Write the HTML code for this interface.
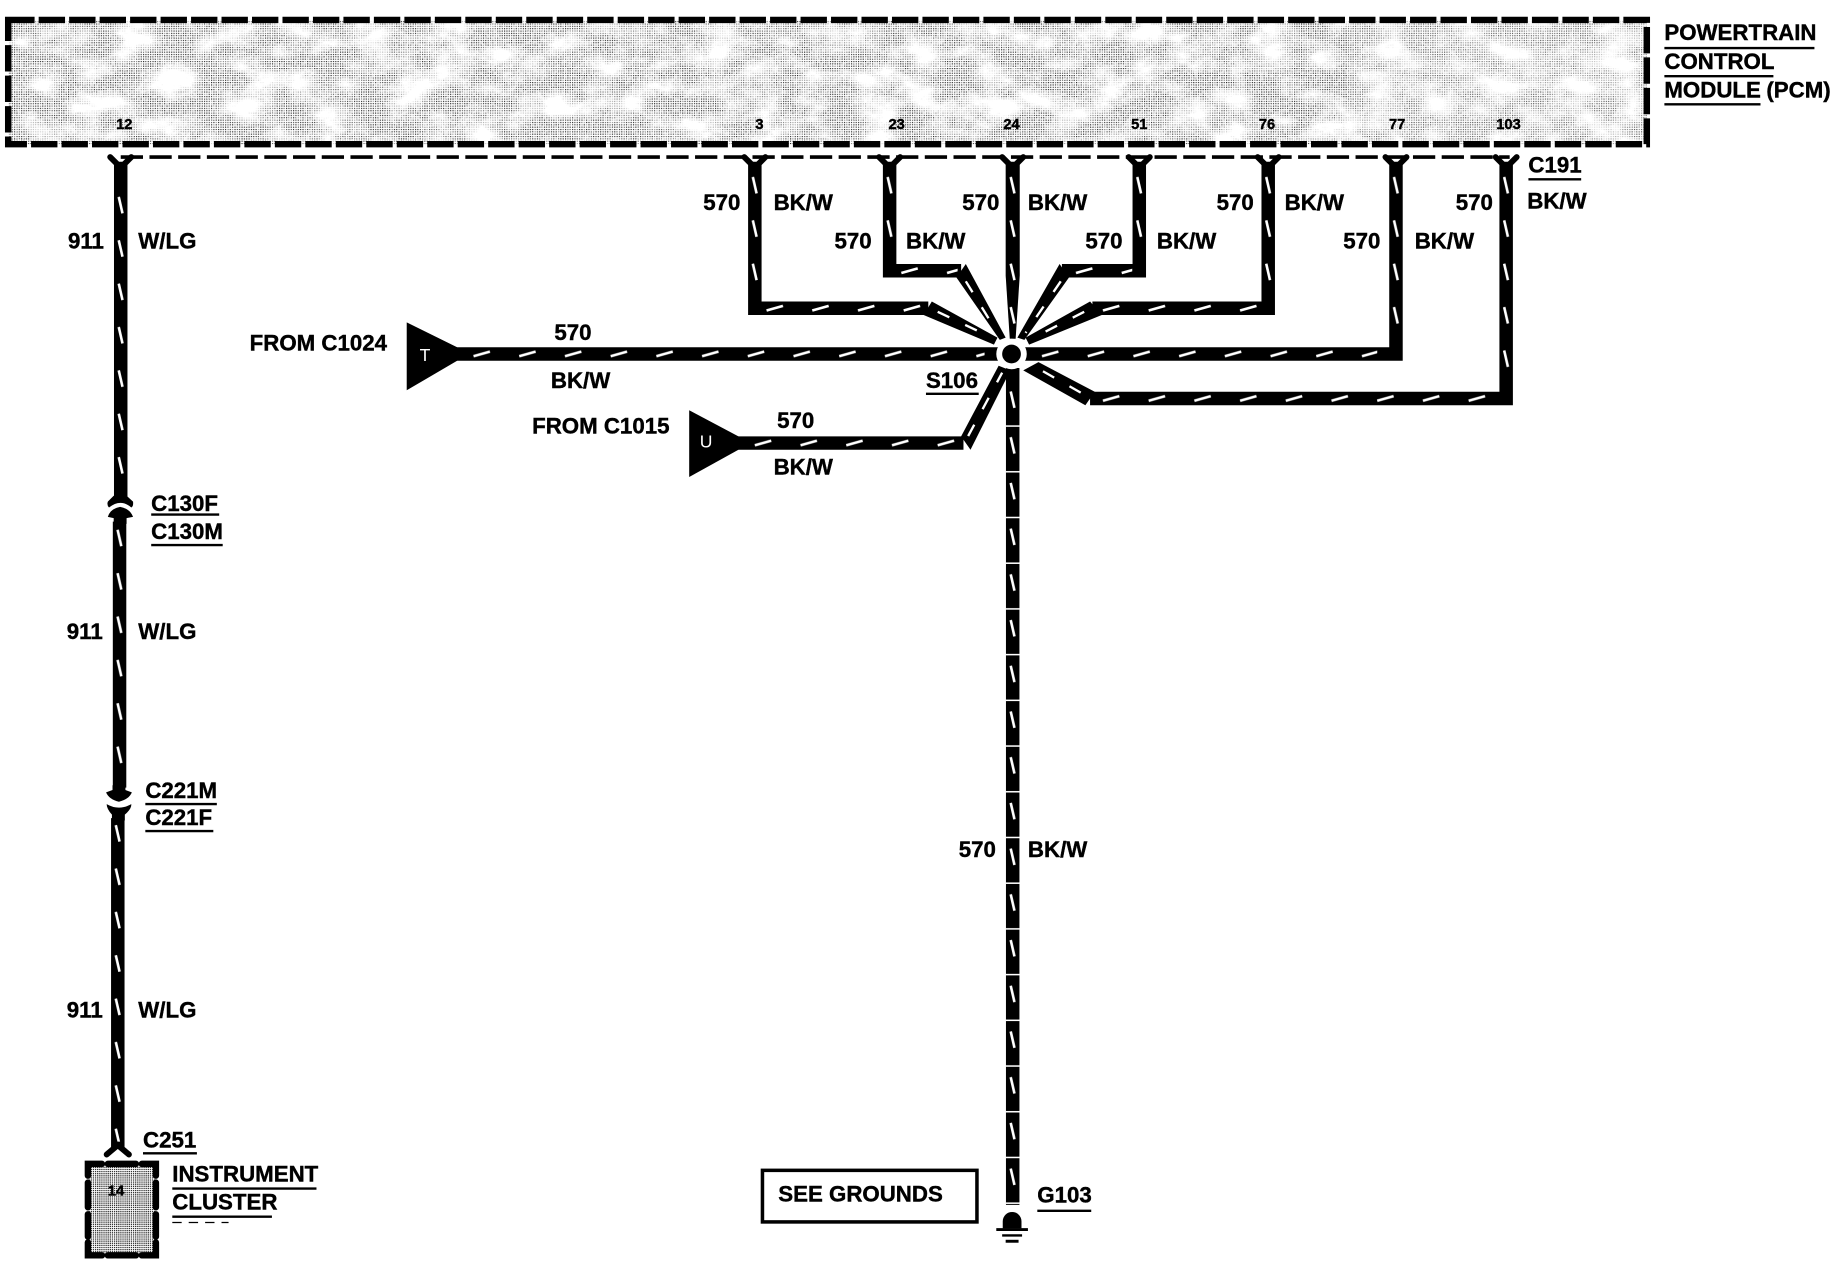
<!DOCTYPE html>
<html><head><meta charset="utf-8"><title>Wiring diagram</title>
<style>
html,body{margin:0;padding:0;background:#fff}
svg{display:block}
text{font-family:"Liberation Sans",Arial,sans-serif;font-weight:bold;font-size:19px;fill:#000;stroke:#000;stroke-width:.35}
.p{font-size:12.5px;text-anchor:middle}
.w{fill:none;stroke:#000;stroke-width:11.5;stroke-linejoin:miter}
.d{fill:none;stroke:#fff;stroke-width:2;stroke-dasharray:11 15}
.u{stroke:#000;stroke-width:2;fill:none}
.f{fill:none;stroke:#000;stroke-width:5;stroke-linecap:round}
.c{fill:none;stroke:#000;stroke-width:5.5;stroke-linecap:round;stroke-linejoin:miter}
</style></head><body>
<svg xmlns="http://www.w3.org/2000/svg" width="1832" height="1264" viewBox="0 0 1563 1078.4" preserveAspectRatio="none">
<defs>
<pattern id="dots" width="2" height="2" patternUnits="userSpaceOnUse"><rect width="2" height="2" fill="#fff"/><rect width="1" height="1" fill="#222"/></pattern>
<pattern id="dots2" width="1.8" height="1.8" patternUnits="userSpaceOnUse"><rect width="1.8" height="1.8" fill="#fff"/><rect width="1.1" height="1.1" fill="#333"/></pattern>
<filter id="blotch" x="0" y="0" width="1" height="1" color-interpolation-filters="sRGB">
<feTurbulence type="fractalNoise" baseFrequency=".03 .05" numOctaves="5" seed="4"/>
<feColorMatrix values="0 0 0 0 1 0 0 0 0 1 0 0 0 0 1 3 0 0 0 -1.150"/>
</filter>
<filter id="grain" x="0" y="0" width="1" height="1" color-interpolation-filters="sRGB">
<feTurbulence type="fractalNoise" baseFrequency=".45" numOctaves="2" seed="9"/>
<feColorMatrix values="0 0 0 0 1 0 0 0 0 1 0 0 0 0 1 7 0 0 0 -3.500"/>
</filter>
<pattern id="v" width="12" height="37" patternUnits="userSpaceOnUse"><path d="M4.300 4L7.500 18" stroke="#fff" stroke-width="2.200" fill="none"/></pattern>
<pattern id="vb" width="12" height="39" patternUnits="userSpaceOnUse"><path d="M4.300 8L7.500 22" stroke="#fff" stroke-width="2.200" fill="none"/><path d="M0 37.500H12" stroke="#fff" stroke-width="1.300"/></pattern>
<pattern id="h" width="39" height="11.500" patternUnits="userSpaceOnUse"><path d="M4 7.700L18 3.700" stroke="#fff" stroke-width="2.200" fill="none"/></pattern>
</defs>

<!-- PCM -->
<rect x="7" y="17" width="1398" height="106" fill="url(#dots)"/>
<rect x="7" y="17" width="1398" height="106" filter="url(#grain)" opacity=".55"/>
<rect x="7" y="17" width="1398" height="106" filter="url(#blotch)"/>
<rect x="1150" y="17" width="255" height="106" fill="#fff" opacity=".2"/>
<rect x="7" y="17" width="1398" height="106" fill="none" stroke="#000" stroke-width="5.500" stroke-dasharray="22.500 3.500"/>
<path d="M103 134H1288" stroke="#000" stroke-width="3" stroke-dasharray="19 5.500" fill="none"/>

<!-- wires -->
<path class="w" d="M103 138V425"/>
<path class="w" d="M102 445V672"/>
<path class="w" d="M100.500 698V979"/>
<path class="w" d="M644 138V263H792"/>
<polygon points="795,257.250 788,268.750 848,294 851,288"/>
<path class="w" d="M759 138V231H820"/>
<polygon points="824,225.250 816,236.750 853,290 858,288"/>
<polygon points="858,138 870,138 870,235 866.500,289 861.500,289 858,235"/>
<path class="w" d="M864 314V1028"/>
<path class="w" d="M972 138V231H906"/>
<polygon points="904,225.250 912,236.750 874,290 868,288"/>
<path class="w" d="M1082 138V263H932"/>
<polygon points="930,257.250 940,268.750 878,294 875,288"/>
<path class="w" d="M1191 138V302H388"/>
<path class="w" d="M1285 138V340H930"/>
<polygon points="934,334.250 926,345.750 873,316 886,309"/>
<path class="w" d="M628 378H822"/>
<polygon points="820,372.250 828,383.750 862,316 852,312"/>

<!-- forks -->
<g class="f">
<path d="M94 134L103 143L112 134"/><path d="M635 134L644 143L653 134"/><path d="M750 134L759 143L768 134"/><path d="M855 134L864 143L873 134"/><path d="M963 134L972 143L981 134"/><path d="M1073 134L1082 143L1091 134"/><path d="M1182 134L1191 143L1200 134"/><path d="M1276 134L1285 143L1294 134"/>
<path d="M91 985L100.500 977L110 985"/>
</g>

<!-- slashes -->
<rect transform="translate(97,164)" width="12" height="255" fill="url(#v)"/>
<rect transform="translate(96,448)" width="12" height="222" fill="url(#v)"/>
<rect transform="translate(94.500,700)" width="12" height="274" fill="url(#v)"/>
<rect transform="translate(638,147)" width="12" height="111" fill="url(#v)"/>
<rect transform="translate(753,147)" width="12" height="75" fill="url(#v)"/>
<rect transform="translate(858,147)" width="12" height="135" fill="url(#v)"/>
<rect transform="translate(966,147)" width="12" height="75" fill="url(#v)"/>
<rect transform="translate(1076,147)" width="12" height="111" fill="url(#v)"/>
<rect transform="translate(1185,147)" width="12" height="148" fill="url(#v)"/>
<rect transform="translate(1279,147)" width="12" height="185" fill="url(#v)"/>
<rect transform="translate(858,326)" width="12" height="702" fill="url(#vb)"/>
<rect transform="translate(400,296.250)" width="440" height="11.500" fill="url(#h)"/>
<rect transform="translate(885,296.250)" width="290" height="11.500" fill="url(#h)"/>
<rect transform="translate(650,257.250)" width="142" height="11.500" fill="url(#h)"/>
<rect transform="translate(765,225.250)" width="52" height="11.500" fill="url(#h)"/>
<rect transform="translate(914,225.250)" width="52" height="11.500" fill="url(#h)"/>
<rect transform="translate(937,257.250)" width="138" height="11.500" fill="url(#h)"/>
<rect transform="translate(937,334.250)" width="343" height="11.500" fill="url(#h)"/>
<rect transform="translate(640,372.250)" width="180" height="11.500" fill="url(#h)"/>
<path class="d" d="M800 266L846 288"/><path class="d" d="M824 240L851 284"/><path class="d" d="M905 240L875 284"/><path class="d" d="M925 266L882 288"/><path class="d" d="M922 335L885 314"/><path class="d" d="M826 372L855 318"/>

<!-- connector triangles -->
<polygon points="347,275 390,296.250 390,307.750 347,333"/>
<polygon points="588,350 630,372.250 630,383.750 588,407"/>
<text x="358" y="308" style="fill:#fff;stroke:none;font-weight:normal;font-size:15px">T</text>
<text x="597" y="382" style="fill:#fff;stroke:none;font-weight:normal;font-size:15px">U</text>

<!-- junction -->
<circle cx="863" cy="302" r="13" fill="#fff"/>
<circle cx="863" cy="302" r="8" fill="#000"/>

<!-- C130 / C221 connectors -->
<path d="M97 423H108L113.500 428Q114 432 112 433Q103 425 93 433Q91 431 92 428Z"/>
<path d="M92 441Q94 434 102.500 432.500Q111 434 113.500 441L108 442V447H97V442Z"/>
<path d="M96 670H107V674L112.500 676Q110 682 101.500 684Q93 682 90.500 676L96 674Z"/>
<path d="M91 686Q101.500 692 112 686Q112.500 690 106.500 695V700H95.500V695Q91 690 91 686Z"/>

<!-- instrument cluster -->
<rect x="75" y="993" width="58" height="78" fill="url(#dots2)"/>
<path class="c" d="M87 993H75V1003M121 993H133V1003M75 1060V1071H87M133 1060V1071H121M92 993H116M92 1071H116M75 1009V1030M75 1036V1055M133 1009V1030M133 1036V1055"/>
<text class="p" x="99" y="1020">14</text>

<!-- see grounds -->
<rect x="650.500" y="998.500" width="183" height="44" fill="#fff" stroke="#000" stroke-width="3"/>
<text x="664" y="1025">SEE GROUNDS</text>

<!-- ground -->
<path d="M855.500 1048V1042A8 8 0 0 1 871.500 1042V1048Z"/>
<path d="M850 1049H877" stroke="#000" stroke-width="2.500"/>
<path d="M855 1054H872" stroke="#000" stroke-width="2"/>
<path d="M858 1059H869" stroke="#000" stroke-width="2.500"/>

<!-- pin labels -->
<text class="p" x="106" y="110">12</text><text class="p" x="648" y="110">3</text><text class="p" x="765" y="110">23</text><text class="p" x="863" y="110">24</text><text class="p" x="972" y="110">51</text><text class="p" x="1081" y="110">76</text><text class="p" x="1192" y="110">77</text><text class="p" x="1287" y="110">103</text>

<!-- labels -->
<text x="1420" y="34">POWERTRAIN</text><path class="u" d="M1420 41H1548"/>
<text x="1420" y="59">CONTROL</text><path class="u" d="M1420 65H1513"/>
<text x="1420" y="83">MODULE</text><text x="1507" y="83">(PCM)</text><path class="u" d="M1420 89H1502"/>
<text x="1304" y="147">C191</text><path class="u" d="M1304 153H1349"/>
<text x="1303" y="178">BK/W</text>

<text x="58" y="212">911</text><text x="118" y="212">W/LG</text>
<text x="57" y="545">911</text><text x="118" y="545">W/LG</text>
<text x="57" y="868">911</text><text x="118" y="868">W/LG</text>

<text x="600" y="179">570</text><text x="660" y="179">BK/W</text>
<text x="712" y="212">570</text><text x="773" y="212">BK/W</text>
<text x="821" y="179">570</text><text x="877" y="179">BK/W</text>
<text x="926" y="212">570</text><text x="987" y="212">BK/W</text>
<text x="1038" y="179">570</text><text x="1096" y="179">BK/W</text>
<text x="1146" y="212">570</text><text x="1207" y="212">BK/W</text>
<text x="1242" y="179">570</text>

<text x="213" y="299">FROM C1024</text>
<text x="473" y="290">570</text><text x="470" y="331">BK/W</text>
<text x="790" y="331">S106</text><path class="u" d="M790 336H835"/>
<text x="454" y="370">FROM C1015</text>
<text x="663" y="365">570</text><text x="660" y="405">BK/W</text>
<text x="818" y="731">570</text><text x="877" y="731">BK/W</text>

<text x="129" y="436">C130F</text><path class="u" d="M129 439H187"/>
<text x="129" y="460">C130M</text><path class="u" d="M129 465H190"/>
<text x="124" y="681">C221M</text><path class="u" d="M124 686H185"/>
<text x="124" y="704">C221F</text><path class="u" d="M124 709H182"/>
<text x="122" y="979">C251</text><path class="u" d="M122 984H168"/>
<text x="147" y="1008">INSTRUMENT</text><path class="u" d="M147 1014H270"/>
<text x="147" y="1032">CLUSTER</text><path class="u" d="M147 1038H232"/>
<path d="M147 1043H195" stroke="#000" stroke-width="1" stroke-dasharray="8 6"/>
<text x="885" y="1026">G103</text><path class="u" d="M885 1033H931"/>
</svg>
</body></html>
